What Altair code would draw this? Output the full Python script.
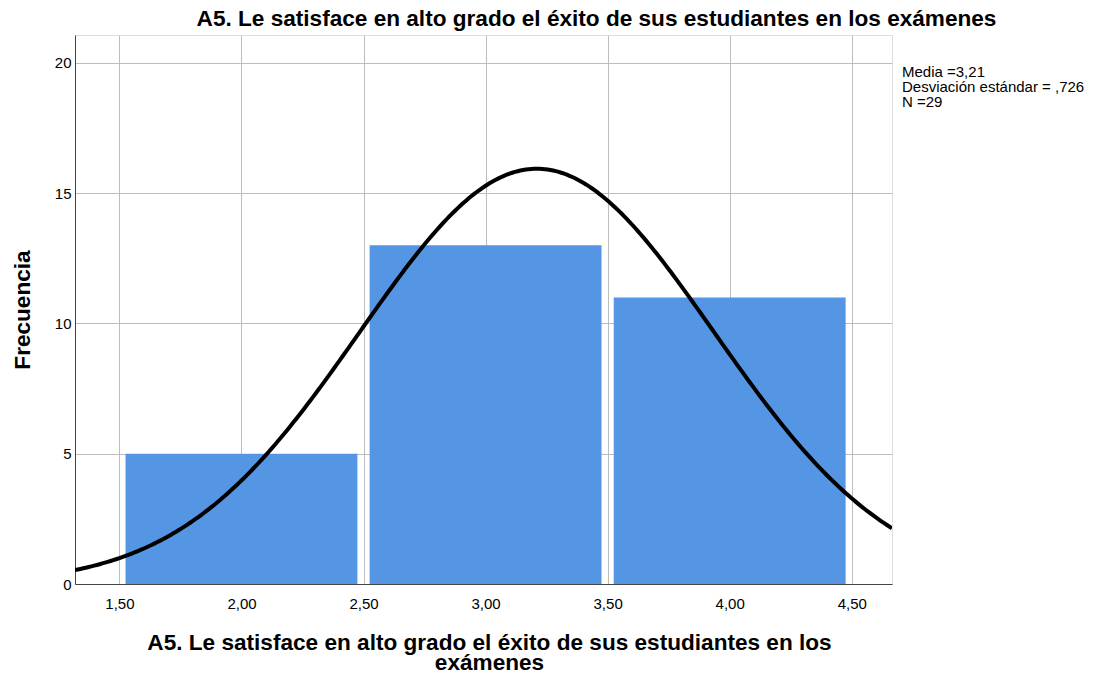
import altair as alt
import pandas as pd
import numpy as np

# Histogram data
bin_start = [1.5, 2.5, 3.5]
bin_end = [2.5, 3.5, 4.5]
counts = [5, 13, 11]

# Reported statistics (normal curve overlay)
MEAN = 3.21
SD = 0.726
N = 29
BIN_WIDTH = 1.0

x_ticks = [1.5, 2.0, 2.5, 3.0, 3.5, 4.0, 4.5]
y_ticks = [0, 5, 10, 15, 20]
stats_lines = ["Media =3,21", "Desviación estándar = ,726", "N =29"]

title_text = "A5. Le satisface en alto grado el éxito de sus estudiantes en los exámenes"
x_title = ["A5. Le satisface en alto grado el éxito de sus estudiantes en los", "exámenes"]
y_title = "Frecuencia"

XMIN, XMAX = 1.318, 4.665
YMIN, YMAX = 0, 21.07
GAP = 0.025

bars = pd.DataFrame({
    "x0": [s + GAP for s in bin_start],
    "x1": [e - GAP for e in bin_end],
    "count": counts,
})

xs = np.linspace(XMIN, XMAX, 300)
curve = pd.DataFrame({
    "x": xs,
    "y": N * BIN_WIDTH * np.exp(-0.5 * ((xs - MEAN) / SD) ** 2) / (SD * np.sqrt(2 * np.pi)),
})

FONT = "Liberation Sans"
TFS = 22.6

xscale = alt.Scale(domain=[XMIN, XMAX], nice=False, zero=False)
yscale = alt.Scale(domain=[YMIN, YMAX], nice=False)

xaxis = alt.Axis(
    values=x_ticks, labelExpr="replace(format(datum.value, '.2f'), '.', ',')",
    title=x_title, titleFont=FONT, titleFontSize=TFS, titleFontWeight="bold",
    titleColor="black", titleX=414, titleY=65, titleBaseline="alphabetic",
    titleAlign="center", titleLineHeight=20,
    labelFont=FONT, labelFontSize=15, labelColor="black", labelPadding=12,
    ticks=False, grid=True, gridColor="#bdbdbd",
    gridWidth=1, domainColor="#444444", domainWidth=1,
)
yaxis = alt.Axis(
    values=y_ticks, title=y_title, titleFont=FONT, titleFontSize=TFS,
    titleFontWeight="bold", titleColor="black", titleX=-53, titleY=274.5,
    titleAngle=270, titleAlign="center", titleBaseline="middle",
    labelFont=FONT, labelFontSize=15, labelColor="black", labelPadding=4,
    ticks=False, grid=True, gridColor="#bdbdbd", gridWidth=1,
    domainColor="#444444", domainWidth=1,
)

bar_layer = alt.Chart(bars).mark_rect(color="#5596e4").encode(
    x=alt.X("x0:Q", scale=xscale, axis=xaxis),
    x2="x1:Q",
    y=alt.Y("count:Q", scale=yscale, axis=yaxis),
    y2=alt.datum(0),
)

line_layer = alt.Chart(curve).mark_line(color="black", strokeWidth=4, clip=True).encode(
    x=alt.X("x:Q", scale=xscale),
    y=alt.Y("y:Q", scale=yscale),
)

stats_df = pd.DataFrame({"t": ["\n".join(stats_lines)]})
stats_layer = alt.Chart(stats_df).mark_text(
    align="left", baseline="top", font=FONT, fontSize=15, color="black",
    lineBreak="\n", lineHeight=15,
).encode(
    x=alt.value(827),
    y=alt.value(29.5),
    text="t:N",
)

chart = alt.layer(bar_layer, line_layer, stats_layer).properties(
    width=817, height=549,
    title=alt.TitleParams(
        text=title_text, font=FONT, fontSize=TFS, fontWeight="bold", color="black",
        anchor="middle", dx=113, offset=4,
    ),
    padding={"left": 67, "top": 27, "right": 196, "bottom": 87},
    autosize=alt.AutoSizeParams(type="none"),
).configure_view(stroke=None).configure(background="white")

chart.save("out.html", embed_options={"renderer": "svg", "actions": False})
